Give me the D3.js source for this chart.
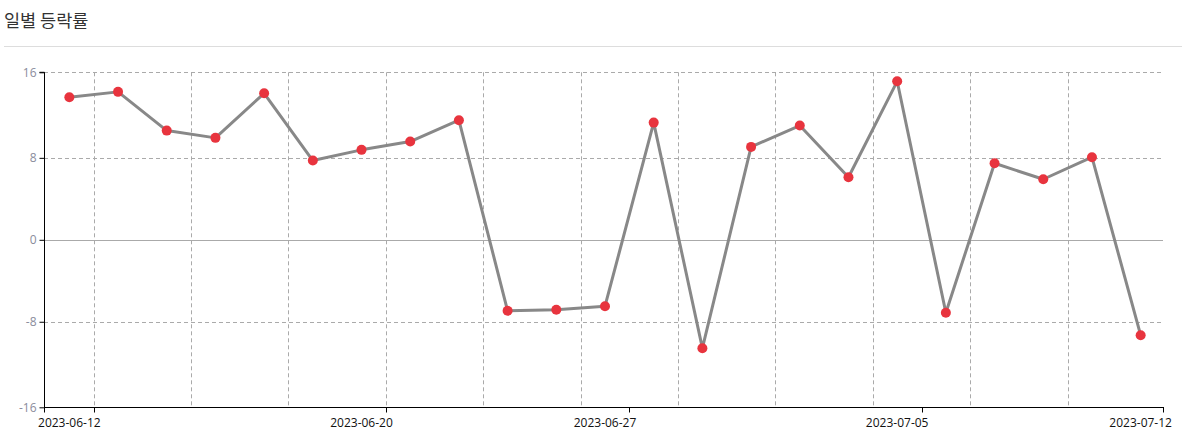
<!DOCTYPE html>
<html><head><meta charset="utf-8">
<script src="https://cdn.jsdelivr.net/npm/d3@7/dist/d3.min.js"></script>
<style>
html,body{margin:0;padding:0;background:#fff;}
svg{display:block;font-family:"Noto Sans CJK KR","Noto Sans",sans-serif;}
</style></head>
<body>
<svg id="chart" width="1182" height="438"></svg>
<script>
const title = "일별 등락률";
const dates = ["2023-06-12","2023-06-13","2023-06-14","2023-06-15","2023-06-16",
  "2023-06-19","2023-06-20","2023-06-21","2023-06-22","2023-06-23",
  "2023-06-26","2023-06-27","2023-06-28","2023-06-29","2023-06-30",
  "2023-07-03","2023-07-04","2023-07-05","2023-07-06","2023-07-07",
  "2023-07-10","2023-07-11","2023-07-12"];
const changes = [13.91,14.44,10.66,9.95,14.30,7.74,8.78,9.59,11.67,-6.93,-6.83,-6.48,
  11.44,-10.58,9.07,11.15,6.11,15.47,-7.12,7.47,5.91,8.06,-9.31];
const xTickLabels = ["2023-06-12","2023-06-20","2023-06-27","2023-07-05","2023-07-12"];
const yTicks = [-16,-8,0,8,16];
const yDomain = [-16.35,16.35];

const svg = d3.select("#chart");
const m = {left:44, right:1163, top:72.3, bottom:407.3};

svg.append("text").attr("x",4).attr("y",26.5).attr("font-size",17.5).attr("fill","#333").text(title);
svg.append("line").attr("x1",4).attr("x2",1182).attr("y1",46.5).attr("y2",46.5).attr("stroke","#ddd");

const x = d3.scaleBand().domain(dates).range([45,1165]).padding(0);
const y = d3.scaleLinear().domain(yDomain).range([m.bottom,m.top]);
const bw = x.bandwidth();
const cx = d => x(d) + bw/2;

// vertical dashed grid at odd band boundaries
const gridV = dates.filter((d,i)=> i%2===1);
svg.append("g").selectAll("line").data(gridV).join("line")
  .attr("x1",d=>Math.round(x(d))+0.5).attr("x2",d=>Math.round(x(d))+0.5)
  .attr("y1",m.top).attr("y2",m.bottom)
  .attr("stroke","#aaa").attr("stroke-dasharray","4,3");

// horizontal grid
const yTickPos = yTicks.map(v => v===16?yDomain[1]:(v===-16?yDomain[0]:v));
svg.append("g").selectAll("line").data(yTickPos.filter(v=>v>yDomain[0])).join("line")
  .attr("x1",m.left).attr("x2",m.right)
  .attr("y1",d=>Math.round(y(d))+0.5).attr("y2",d=>Math.round(y(d))+0.5)
  .attr("stroke","#aaa")
  .attr("stroke-dasharray",d=>d===0?null:"4,3");

// y axis
const yAxis = d3.axisLeft(y).tickValues(yTickPos).tickSize(5)
  .tickFormat((d,i)=>String(yTicks[i]));
const gy = svg.append("g").attr("transform",`translate(${m.left+0.5},0)`).call(yAxis);
gy.select(".domain").attr("stroke","#000").attr("d",`M-5,${m.top}H0V${m.bottom}`);
gy.selectAll(".tick line").attr("stroke","#000");
gy.selectAll(".tick text").attr("fill","#8a8c9c").attr("font-size",12)
  .attr("font-family","'Open Sans','Noto Sans',sans-serif");

// x axis: ticks at right edge of labeled band, labels centered on band
const gx = svg.append("g").attr("transform",`translate(0,${Math.round(m.bottom)+0.5})`);
gx.append("line").attr("x1",m.left).attr("x2",m.right+1).attr("stroke","#000");
const xt = gx.selectAll("g.t").data(xTickLabels).join("g").attr("class","t");
xt.append("line").attr("x1",d=>Math.min(Math.round(x(d)+bw),m.right)+0.5)
  .attr("x2",d=>Math.min(Math.round(x(d)+bw),m.right)+0.5)
  .attr("y1",0).attr("y2",5).attr("stroke","#000");
xt.append("text").attr("x",d=>cx(d)).attr("y",19).attr("text-anchor","middle")
  .attr("font-size",12).attr("fill","#111")
  .attr("font-family","'Open Sans','Noto Sans',sans-serif").text(d=>d);
gx.append("line").attr("x1",m.left+0.5).attr("x2",m.left+0.5).attr("y1",0).attr("y2",5).attr("stroke","#000");

// line
const line = d3.line().x((d,i)=>cx(dates[i])).y(d=>y(d));
svg.append("path").datum(changes).attr("d",line).attr("fill","none")
  .attr("stroke","#888").attr("stroke-width",3).attr("stroke-linejoin","round");

svg.append("g").selectAll("circle").data(changes).join("circle")
  .attr("cx",(d,i)=>cx(dates[i])).attr("cy",d=>y(d)).attr("r",5)
  .attr("fill","#e8343e");
</script>
</body></html>
